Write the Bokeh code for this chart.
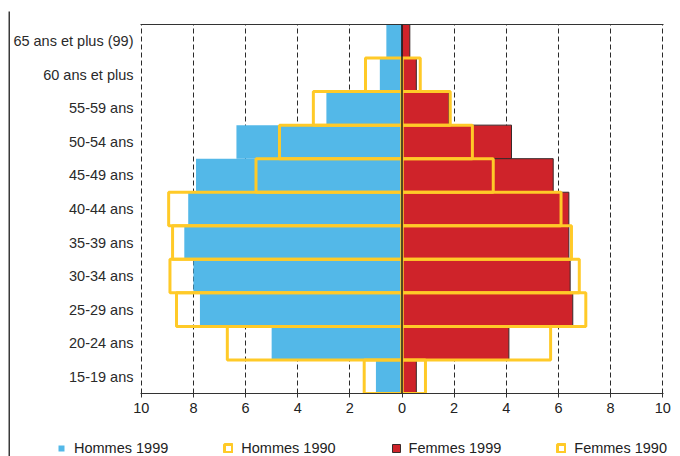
from bokeh.plotting import figure
from bokeh.layouts import column, row
from bokeh.models import (ColumnDataSource, FactorRange, Range1d, FixedTicker, LinearAxis,
                          CustomJSTickFormatter, Span, Legend, LegendItem, Spacer)
from bokeh.embed import file_html
from bokeh.resources import INLINE

# ---------------- data ----------------
categories = ["65 ans et plus (99)", "60 ans et plus", "55-59 ans", "50-54 ans",
              "45-49 ans", "40-44 ans", "35-39 ans", "30-34 ans", "25-29 ans",
              "20-24 ans", "15-19 ans"]
hommes_1999 = [0.6, 0.85, 2.9, 6.35, 7.9, 8.2, 8.35, 8.0, 7.75, 5.0, 1.0]
hommes_1990 = [None, 1.4, 3.4, 4.7, 5.6, 8.95, 8.8, 8.9, 8.65, 6.7, 1.45]
femmes_1999 = [0.3, 0.55, 1.8, 4.2, 5.8, 6.4, 6.4, 6.45, 6.55, 4.1, 0.55]
femmes_1990 = [None, 0.7, 1.85, 2.7, 3.5, 6.1, 6.5, 6.8, 7.05, 5.7, 0.9]
x_ticks = [-10, -8, -6, -4, -2, 0, 2, 4, 6, 8, 10]
legend_labels = ["Hommes 1999", "Hommes 1990", "Femmes 1999", "Femmes 1990"]

# ---------------- style ----------------
BLUE = "#53B8E8"
RED = "#CF232A"
YELLOW = "#FFCA28"
EDGE = "#3a2a2a"
FONT = "Liberation Sans"
FS = "14.5px"
W = 670

src99 = ColumnDataSource(dict(cat=categories,
                              h_left=[-v for v in hommes_1999],
                              f_right=femmes_1999))
cats90 = [c for c, h in zip(categories, hommes_1990) if h is not None]
src90 = ColumnDataSource(dict(cat=cats90,
                              h_left=[-h for h in hommes_1990 if h is not None],
                              f_right=[f for f in femmes_1990 if f is not None]))

# ---------------- main pyramid ----------------
p = figure(width=W, height=408,
           y_range=FactorRange(factors=categories[::-1]),
           x_range=Range1d(-10.03, 10.03),
           output_backend="svg", toolbar_location=None,
           min_border_left=130, min_border_right=17,
           min_border_top=11, min_border_bottom=28, margin=0)
p.frame_align = False
p.outline_line_color = None
p.background_fill_color = "white"
p.border_fill_color = "white"

p.hbar(y="cat", left="h_left", right=0, height=1.0, source=src99,
       fill_color=BLUE, line_color=None)
p.hbar(y="cat", left=0, right="f_right", height=1.0, source=src99,
       fill_color=RED, line_color=EDGE, line_width=1)
p.hbar(y="cat", left="h_left", right=0, height=1.0, source=src90,
       fill_color=None, line_color=YELLOW, line_width=3)
p.hbar(y="cat", left=0, right="f_right", height=1.0, source=src90,
       fill_color=None, line_color=YELLOW, line_width=3)

p.add_layout(Span(location=0, dimension="height", line_color="#1e1e1e", line_width=1.5))

xa = p.xaxis[0]
xa.ticker = FixedTicker(ticks=x_ticks)
xa.formatter = CustomJSTickFormatter(code="return Math.abs(tick).toFixed(0);")
xa.axis_line_color = "#333333"
xa.major_tick_line_color = "#333333"
xa.major_tick_out = 4
xa.major_tick_in = 0
xa.minor_tick_line_color = None
xa.major_label_standoff = 5
xa.major_label_text_font = FONT
xa.major_label_text_font_size = FS
xa.major_label_text_color = "#222222"

top = LinearAxis(ticker=FixedTicker(ticks=[]), axis_line_color="#333333",
                 major_tick_line_color=None, minor_tick_line_color=None,
                 major_label_text_font_size="0px")
p.add_layout(top, "above")

ya = p.yaxis[0]
ya.axis_line_color = None
ya.major_tick_line_color = None
ya.major_tick_out = 0
ya.major_tick_in = 0
ya.major_label_standoff = 7
ya.major_label_text_font = FONT
ya.major_label_text_font_size = FS
ya.major_label_text_color = "#2a2a2a"

p.xgrid.ticker = FixedTicker(ticks=x_ticks)
p.xgrid.grid_line_color = "#2a2a2a"
p.xgrid.grid_line_dash = "5 3"
p.xgrid.grid_line_width = 1
p.ygrid.grid_line_color = None

# ---------------- legend strip ----------------
lg = figure(width=W, height=35, x_range=Range1d(-10, 10),
            y_range=FactorRange(factors=categories[::-1]),
            x_axis_type=None, y_axis_type=None,
            output_backend="svg", toolbar_location=None, margin=0,
            min_border_left=0, min_border_right=0, min_border_top=0, min_border_bottom=0)
lg.frame_align = False
lg.outline_line_color = None
lg.xgrid.grid_line_color = None
lg.ygrid.grid_line_color = None
lg.background_fill_color = "white"
lg.border_fill_color = "white"

# legend swatches only (renderers hidden, their legend glyphs still drawn)
l_h99 = lg.hbar(y="cat", left="h_left", right=0, height=1.0, source=src99,
                fill_color=BLUE, line_color="white", line_width=2, visible=False)
l_h90 = lg.hbar(y="cat", left="h_left", right=0, height=1.0, source=src90,
                fill_color=None, line_color=YELLOW, line_width=3, visible=False)
l_f99 = lg.hbar(y="cat", left=0, right="f_right", height=1.0, source=src99,
                fill_color=RED, line_color=EDGE, line_width=1, visible=False)
l_f90 = lg.hbar(y="cat", left=0, right="f_right", height=1.0, source=src90,
                fill_color=None, line_color=YELLOW, line_width=3, visible=False)

legend = Legend(items=[LegendItem(label=legend_labels[0], renderers=[l_h99]),
                       LegendItem(label=legend_labels[1], renderers=[l_h90]),
                       LegendItem(label=legend_labels[2], renderers=[l_f99]),
                       LegendItem(label=legend_labels[3], renderers=[l_f90])],
                orientation="horizontal", location=(46, 0),
                glyph_width=10, glyph_height=10, label_standoff=8, spacing=55,
                padding=0, margin=0, border_line_color=None,
                background_fill_alpha=0,
                label_text_font=FONT, label_text_font_size=FS,
                label_text_color="#222222")
lg.add_layout(legend)


# ---------------- outer frame lines (thin solid strips) ----------------
def strip(w, h, color="#3a3a3a"):
    s = figure(width=w, height=h, x_axis_type=None, y_axis_type=None,
               output_backend="svg", toolbar_location=None, margin=0,
               min_border_left=0, min_border_right=0, min_border_top=0, min_border_bottom=0)
    s.frame_align = False
    s.outline_line_color = None
    s.xgrid.grid_line_color = None
    s.ygrid.grid_line_color = None
    s.background_fill_color = color
    s.border_fill_color = color
    return s


left_line = strip(2, 445)
top_line = strip(W, 2)

layout = column(Spacer(height=11, margin=0),
                row(Spacer(width=8, margin=0), left_line,
                    column(top_line, p, lg, spacing=0, margin=0),
                    spacing=0, margin=0),
                spacing=0, margin=0)

open("out.html", "w").write(file_html(layout, INLINE))
